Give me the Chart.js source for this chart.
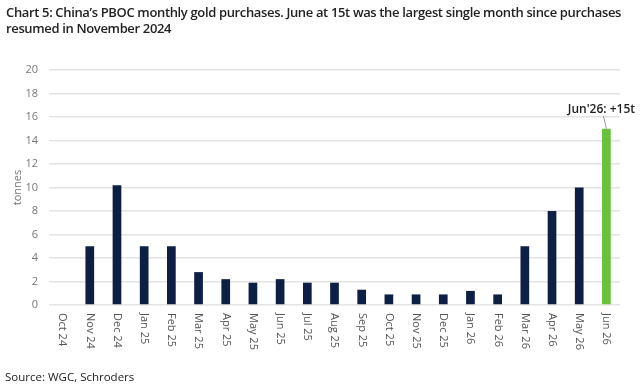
<!DOCTYPE html>
<html>
<head>
<meta charset="utf-8">
<script src="https://cdn.jsdelivr.net/npm/chart.js@4"></script>
<style>
  body { margin: 0; background: #fff; }
  #wrap { position: relative; width: 640px; height: 386px; }
  #title { position: absolute; left: 6px; top: 4px; font: 600 13px "Open Sans", sans-serif; color: #222; line-height: 16px; white-space: nowrap; }
  #source { position: absolute; left: 5px; top: 369px; font: 11.5px "Open Sans", sans-serif; color: #222; }
  canvas { position: absolute; left: 0; top: 0; }
</style>
</head>
<body>
<div id="wrap">
  <canvas id="chart" width="640" height="386"></canvas>
  <div id="title"><span id="t1">Chart 5: China’s PBOC monthly gold purchases. June at 15t was the largest single month since purchases</span><br>resumed in November 2024</div>
  <div id="source">Source: WGC, Schroders</div>
</div>
<script>
const months = ["Oct 24", "Nov 24", "Dec 24", "Jan 25", "Feb 25", "Mar 25", "Apr 25", "May 25", "Jun 25", "Jul 25",
  "Aug 25", "Sep 25", "Oct 25", "Nov 25", "Dec 25", "Jan 26", "Feb 26", "Mar 26", "Apr 26", "May 26", "Jun 26"];
const tonnes = [0, 5, 10.2, 5, 5, 2.8, 2.2, 1.9, 2.2, 1.9, 1.9, 1.3, 0.9, 0.9, 0.9, 1.2, 0.9, 5, 8, 10, 15];
const yTicks = [0, 2, 4, 6, 8, 10, 12, 14, 16, 18, 20];
const calloutText = "Jun'26: +15t";

const navy = "#0d1f45";
const green = "#69c13c";
const barColors = tonnes.map((v, i) => (i === tonnes.length - 1 ? green : navy));

// squeeze the title so the first line ends where the original does
const t1 = document.getElementById("t1");
const title = document.getElementById("title");
const spacing = (615 - t1.getBoundingClientRect().width) / t1.textContent.length;
title.style.letterSpacing = spacing + "px";

// x labels read top to bottom, so draw them by hand
const xLabels = {
  id: "xLabels",
  afterDraw(chart) {
    const ctx = chart.ctx;
    const x = chart.scales.x;
    ctx.save();
    ctx.font = "11px 'Open Sans', sans-serif";
    ctx.fillStyle = "#555";
    ctx.textAlign = "left";
    ctx.textBaseline = "middle";
    months.forEach((m, i) => {
      ctx.save();
      ctx.translate(x.getPixelForTick(i), chart.chartArea.bottom + 8);
      ctx.rotate(Math.PI / 2);
      ctx.fillText(m, 0, 0);
      ctx.restore();
    });
    ctx.restore();
  },
};

const callout = {
  id: "callout",
  afterDatasetsDraw(chart) {
    const bar = chart.getDatasetMeta(0).data[tonnes.length - 1];
    const ctx = chart.ctx;
    ctx.save();
    ctx.strokeStyle = "#999";
    ctx.lineWidth = 1;
    ctx.beginPath();
    ctx.moveTo(bar.x - 3, bar.y - 13);
    ctx.lineTo(bar.x, bar.y);
    ctx.stroke();
    ctx.font = "600 12px 'Open Sans', sans-serif";
    ctx.fillStyle = "#222";
    ctx.textAlign = "center";
    ctx.textBaseline = "alphabetic";
    ctx.fillText(calloutText, bar.x - 5, bar.y - 16);
    ctx.restore();
  },
};

new Chart(document.getElementById("chart"), {
  type: "bar",
  data: {
    labels: months,
    datasets: [
      {
        data: tonnes,
        backgroundColor: barColors,
        barPercentage: 0.32,
        categoryPercentage: 1,
      },
    ],
  },
  options: {
    responsive: false,
    animation: false,
    layout: { padding: { top: 70, right: 20, left: 0, bottom: 0 } },
    plugins: { legend: { display: false }, tooltip: { enabled: false } },
    scales: {
      x: {
        grid: { display: false },
        border: { display: false },
        ticks: { display: false },
        afterFit(scale) {
          scale.height = 81;
        },
      },
      y: {
        min: 0,
        max: 20,
        afterBuildTicks(scale) {
          scale.ticks = yTicks.map((v) => ({ value: v }));
        },
        afterFit(scale) {
          scale.width = 49;
        },
        grid: { color: "#e4e4e4", lineWidth: 1.5, drawTicks: false },
        border: { display: false },
        ticks: {
          padding: 11,
          color: "#777",
          font: { family: "'Open Sans', sans-serif", size: 11 },
        },
        title: {
          display: true,
          text: "tonnes",
          color: "#777",
          padding: { top: 11, bottom: 0 },
          font: { family: "'Open Sans', sans-serif", size: 11 },
        },
      },
    },
  },
  plugins: [xLabels, callout],
});
</script>
</body>
</html>
